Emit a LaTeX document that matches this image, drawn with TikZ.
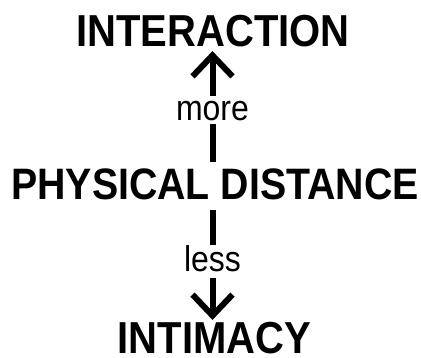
\documentclass[tikz,border=0pt]{standalone}
\usepackage{fontspec,graphicx}
\setmainfont{Liberation Sans}
\usetikzlibrary{arrows.meta,positioning}
\newcommand{\tallcaps}[1]{\scalebox{1}[1.12]{#1}}

\begin{document}
\begin{tikzpicture}[x=1pt,y=-1pt,
	title/.style={font=\bfseries\fontsize{40}{44}\selectfont, inner sep=0pt},
	word/.style={font=\fontsize{32}{36}\selectfont, inner sep=0pt},
	bar/.style={line width=6pt},
	arr/.style={line width=6pt, -{Straight Barb[length=21pt,width=40pt]}}]
	\useasboundingbox (0,0) rectangle (421,358);
	\node[title] (inter) at (213,31) {\tallcaps{INTERACTION}};
	\node[word] (more) at (212.5,111) {\tallcaps{more}};
	\node[title, font=\bfseries\fontsize{39.3}{44}\selectfont] (phys) at (215,184) {\tallcaps{PHYSICAL DISTANCE}};
	\node[word, anchor=base] (less) at (212.5,272) {\tallcaps{less}};
	\node[title] (intim) at (214.5,338) {\tallcaps{INTIMACY}};
	\draw[bar, shorten <=6pt, shorten >=3pt] (more |- phys.north) -- (more.south);
	\draw[arr, shorten <=5pt, shorten >=4pt] (more.north) -- (more |- inter.south);
	\draw[bar, shorten <=10pt, shorten >=1pt] (less |- phys.south) -- (less.north);
	\draw[arr, shorten <=5pt, shorten >=2pt] (less.south) -- (less |- intim.north);
\end{tikzpicture}
\end{document}
